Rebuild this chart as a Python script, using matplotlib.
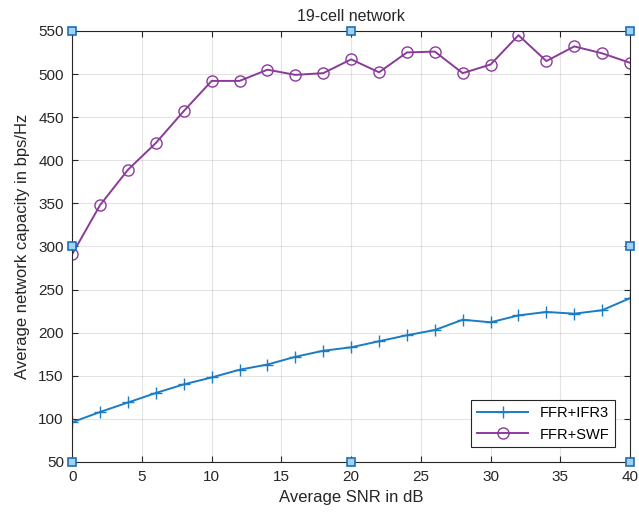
import matplotlib
matplotlib.use("Agg")
import matplotlib.pyplot as plt

plt.rcParams['font.family'] = ['Liberation Sans', 'DejaVu Sans']

snr = [0, 2, 4, 6, 8, 10, 12, 14, 16, 18, 20, 22, 24, 26, 28, 30, 32, 34, 36, 38, 40]
ffr_ifr3 = [96, 108, 119, 130, 140, 148, 157, 163, 172, 179, 183, 190, 197, 203, 215, 212, 220, 224, 222, 226, 240]
ffr_swf = [291, 348, 389, 420, 457, 492, 492, 505, 499, 501, 517, 502, 525, 526, 501, 511, 545, 515, 532, 524, 513]

# selection handles drawn by the figure editor
handle_x = [0, 20, 40, 0, 40, 0, 20, 40]
handle_y = [550, 550, 550, 300, 300, 50, 50, 50]

fig = plt.figure(figsize=(6.39, 5.15), dpi=100)
ax = fig.add_axes([0.113, 0.103, 0.873, 0.837])

ax.plot(snr, ffr_ifr3, color='#1a7cc4', marker='+', markersize=8, linewidth=1.4, label='FFR+IFR3')
ax.plot(snr, ffr_swf, color='#8a3b9a', marker='o', markersize=8, markerfacecolor='none', linewidth=1.4, label='FFR+SWF')

ax.set_xlim(0, 40)
ax.set_ylim(50, 550)
ax.set_xticks(range(0, 41, 5))
ax.set_yticks(range(50, 551, 50))
ax.grid(True, color='#262626', alpha=0.12, linewidth=0.8)
ax.tick_params(direction='in', top=True, right=True, labelsize=11, colors='#262626', length=4, pad=6)
for s in ax.spines.values():
    s.set_color('#262626')
    s.set_linewidth(0.8)

ax.set_title('19-cell network', fontsize=11.5, color='#262626', pad=7)
ax.set_xlabel('Average SNR in dB', fontsize=12, color='#262626', labelpad=4)
ax.set_ylabel('Average network capacity in bps/Hz', fontsize=12, color='#262626', labelpad=6)

leg = ax.legend(loc='lower right', fontsize=10.5, fancybox=False, framealpha=1,
                edgecolor='#262626', borderaxespad=1.0, handlelength=3.5, borderpad=0.4)
leg.get_frame().set_linewidth(0.8)

ax.plot(handle_x, handle_y, linestyle='none', marker='s', markersize=6,
        markerfacecolor='#9fd3f0', markeredgecolor='#1f6fb5', markeredgewidth=1.2, clip_on=False, zorder=5)

fig.savefig('out.png', dpi=100)
